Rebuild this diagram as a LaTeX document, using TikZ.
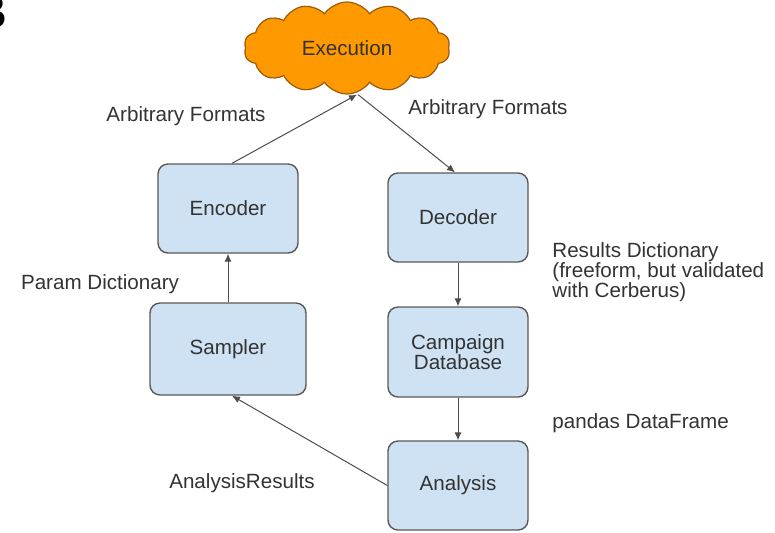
\documentclass[tikz,border=0pt]{standalone}
\usepackage{fontspec}
\setmainfont{Liberation Sans}
\usetikzlibrary{shapes.symbols,arrows.meta}
\definecolor{boxblue}{HTML}{CFE2F3}
\definecolor{boxline}{HTML}{595959}
\definecolor{cloudorange}{HTML}{FF9900}
\definecolor{cloudline}{HTML}{9C5A0E}
\definecolor{txtgray}{HTML}{333333}

\begin{document}
\begin{tikzpicture}[x=0.5pt,y=-0.5pt,
  font=\fontsize{10.3}{10}\selectfont, text=txtgray,
  blk/.style={draw=boxline,fill=boxblue,rounded corners=5pt,line width=0.7pt,
    minimum width=70pt,minimum height=44.5pt,align=center},
  lbl/.style={inner sep=0pt},
  flow/.style={draw=black!70,line width=0.5pt,-{Latex[length=4pt,width=3.5pt]}}]
\useasboundingbox (0,0) rectangle (775,532);

\node[font=\fontsize{24}{24}\selectfont\bfseries,text=black,anchor=base east,inner sep=0pt] (fig) at (8,28) {B};

\node[cloud,cloud puffs=14,cloud puff arc=110,aspect=2.4,draw=cloudline,fill=cloudorange,line width=0.6pt,
  minimum width=103pt,minimum height=46pt] (exe) at (347,48) {Execution};

\node[blk] (enc) at (228,208.5) {Encoder};
\node[blk,minimum width=78pt,minimum height=46pt] (samp) at (228,349) {Sampler};
\node[blk] (dec) at (458,217.5) {Decoder};
\node[blk,minimum height=45pt] (camp) at (458,352) {Campaign\\Database};
\node[blk] (ana) at (458,485.5) {Analysis};

\node[lbl] (fmtl) at (186,116) {Arbitrary Formats};
\node[lbl] (fmtr) at (488,109) {Arbitrary Formats};
\node[lbl,anchor=west,align=left] (resd) at (552,272) {Results Dictionary\\(freeform, but validated\\with Cerberus)};
\node[lbl] (parm) at (100,284) {Param Dictionary};
\node[lbl,anchor=west] (pdf) at (552,423) {pandas DataFrame};
\node[lbl] (ares) at (242,483) {AnalysisResults};

\draw[flow] ([xshift=2pt]enc.north) -- ([xshift=5pt]exe.south);
\draw[flow] ([xshift=5.5pt]exe.south) -- ([xshift=-1.5pt]dec.north);
\draw[flow] (samp.north) -- (enc.south);
\draw[flow] (dec.south) -- (camp.north);
\draw[flow] (camp.south) -- (ana.north);
\draw[flow] (ana.west) -- ([xshift=2pt]samp.south);
\end{tikzpicture}
\end{document}
